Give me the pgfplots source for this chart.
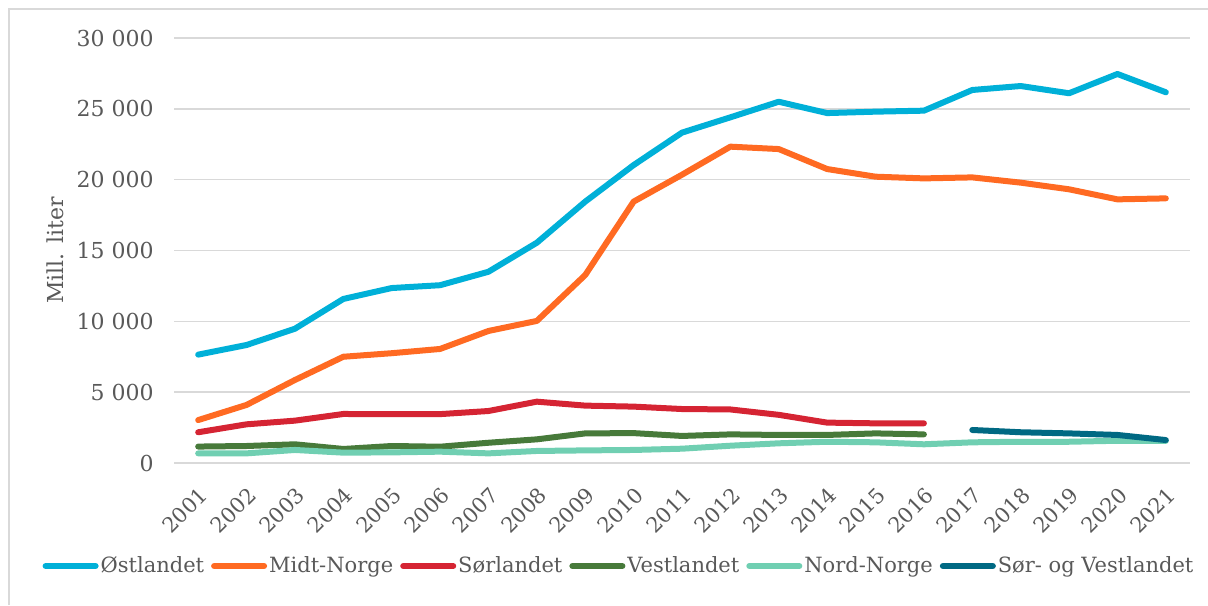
\documentclass[border=0pt]{standalone}
\usepackage{pgfplots}
\pgfplotsset{compat=1.18}
\usepackage{fontspec}
\setmainfont{DejaVu Serif}
\definecolor{cOst}{HTML}{00B0D8}
\definecolor{cMidt}{HTML}{FF6A22}
\definecolor{cSor}{HTML}{D52433}
\definecolor{cVest}{HTML}{477A3A}
\definecolor{cNord}{HTML}{70CFB2}
\definecolor{cSV}{HTML}{006983}
\definecolor{ctxt}{HTML}{595959}
\definecolor{cgrid}{HTML}{D9D9D9}
\begin{document}
\begin{tikzpicture}
\path[use as bounding box] (0,0) rectangle (604pt,302.5pt);
\draw[cgrid, line width=0.75pt] (4.5pt,0) -- (4.5pt,298pt) -- (604pt,298pt);
\begin{axis}[at={(87pt,71pt)}, anchor=south west, scale only axis,
  width=508pt, height=212.5pt,
  xmin=2000.5, xmax=2021.5, ymin=0, ymax=30000,
  xtick={2001,...,2021}, ytick={0,5000,...,30000},
  axis line style={draw=none}, major tick length=0pt,
  ymajorgrids, grid style={cgrid, line width=0.75pt},
  tick label style={font=\fontsize{11}{13}\selectfont, text=ctxt},
  /pgf/number format/assume math mode=true,
  scaled y ticks=false,
  yticklabel style={/pgf/number format/1000 sep={\ }, inner sep=0pt, xshift=-10pt},
  xticklabel style={/pgf/number format/1000 sep={}, font=\fontsize{10.5}{12}\selectfont, xshift=3pt, yshift=-14pt, rotate=45, anchor=east, inner sep=0pt},
  ylabel={Mill. liter},
  every axis y label/.style={at={(axis description cs:0,0.5)}, xshift=-59.5pt, rotate=90, anchor=center, font=\fontsize{11}{13}\selectfont, text=ctxt},
  every axis plot/.append style={line width=3pt, line cap=round, line join=round},
  legend columns=6,
  legend style={at={(axis description cs:0.438,0)}, anchor=center, yshift=-51.5pt, draw=none, fill=none,
    font=\fontsize{10.5}{12}\selectfont, text=ctxt, inner sep=0pt,
    nodes={inner sep=1pt},
    /tikz/every even column/.append style={column sep=2.5pt}},
  legend image code/.code={\draw[#1, line width=3pt, line cap=round] (0pt,0pt) -- (25pt,0pt);},
]
\addplot[cOst] coordinates {(2001,7650)(2002,8330)(2003,9480)(2004,11580)(2005,12350)(2006,12550)(2007,13500)(2008,15550)(2009,18450)(2010,21030)(2011,23320)(2012,24400)(2013,25500)(2014,24700)(2015,24800)(2016,24870)(2017,26330)(2018,26610)(2019,26100)(2020,27460)(2021,26170)};
\addlegendentry{Østlandet}
\addplot[cMidt] coordinates {(2001,3030)(2002,4100)(2003,5860)(2004,7500)(2005,7750)(2006,8050)(2007,9320)(2008,10030)(2009,13270)(2010,18450)(2011,20350)(2012,22330)(2013,22160)(2014,20750)(2015,20210)(2016,20090)(2017,20160)(2018,19790)(2019,19320)(2020,18610)(2021,18680)};
\addlegendentry{Midt-Norge}
\addplot[cSor] coordinates {(2001,2170)(2002,2730)(2003,2990)(2004,3460)(2005,3450)(2006,3450)(2007,3670)(2008,4330)(2009,4050)(2010,3980)(2011,3810)(2012,3780)(2013,3400)(2014,2850)(2015,2800)(2016,2800)};
\addlegendentry{Sørlandet}
\addplot[cVest] coordinates {(2001,1160)(2002,1200)(2003,1320)(2004,990)(2005,1200)(2006,1150)(2007,1430)(2008,1670)(2009,2090)(2010,2110)(2011,1910)(2012,2020)(2013,1980)(2014,1980)(2015,2090)(2016,2020)};
\addlegendentry{Vestlandet}
\addplot[cNord] coordinates {(2001,680)(2002,680)(2003,920)(2004,730)(2005,750)(2006,800)(2007,680)(2008,850)(2009,890)(2010,920)(2011,1010)(2012,1220)(2013,1390)(2014,1500)(2015,1460)(2016,1320)(2017,1460)(2018,1500)(2019,1500)(2020,1570)(2021,1560)};
\addlegendentry{Nord-Norge}
\addplot[cSV] coordinates {(2017,2330)(2018,2170)(2019,2090)(2020,1980)(2021,1620)};
\addlegendentry{Sør- og Vestlandet}
\end{axis}
\end{tikzpicture}
\end{document}
